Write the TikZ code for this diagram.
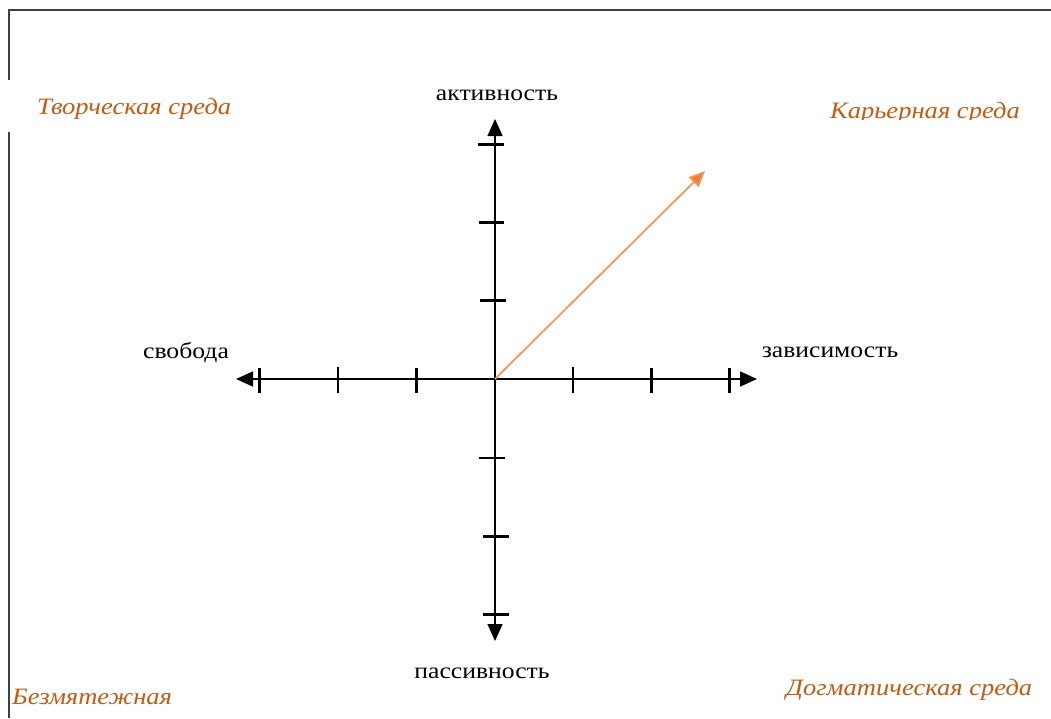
\documentclass[tikz,border=0pt]{standalone}
\usepackage{fontspec}
\setmainfont{Liberation Serif}
\newfontfamily\wideserif[FakeStretch=1.14]{Liberation Serif}
\newfontfamily\wideital[FakeStretch=1.13]{Liberation Serif Italic}
\usetikzlibrary{arrows.meta}
\definecolor{axisblack}{RGB}{0,0,0}
\definecolor{framegray}{RGB}{64,64,64}
\definecolor{labelorange}{RGB}{197,90,17}
\definecolor{vecline}{RGB}{245,150,90}
\definecolor{vechead}{RGB}{237,125,49}
\tikzset{
  axisline/.style={line width=1.5pt, draw=axisblack, -{Triangle[length=17pt,width=15pt]}},
  thicktick/.style={line width=3pt, draw=axisblack},
  thintick/.style={line width=1.4pt, draw=axisblack},
  axislabel/.style={font=\wideserif\fontsize{22.5}{25}\selectfont, text=black, inner sep=0pt},
  zonelabel/.style={font=\wideital\fontsize{23.5}{26}\selectfont, text=labelorange, inner sep=0pt},
  frameline/.style={line width=1.5pt, draw=framegray},
  vector/.style={line width=1.8pt, draw=vecline, -{Triangle[length=16pt,width=14pt,fill=vechead]}}
}
\begin{document}
\begin{tikzpicture}[x=1pt,y=-1pt]
\useasboundingbox (0,0) rectangle (1051,718);
% frame
\coordinate (f1) at (9,80);
\coordinate (f2) at (9,10);
\coordinate (f3) at (1051,10);
\coordinate (f4) at (9,132);
\coordinate (f5) at (9,718);
\draw[frameline] (f1) -- (f2) -- (f3);
\draw[frameline] (f4) -- (f5);
% axes
\coordinate (o) at (495,379);
\coordinate (left) at (236,379);
\coordinate (right) at (757,379);
\coordinate (top) at (495,119);
\coordinate (bottom) at (495,641);
\draw[axisline] (o) -- (left);
\draw[axisline] (o) -- (right);
\draw[axisline] (o) -- (top);
\draw[axisline] (o) -- (bottom);
% horizontal ticks
\draw[thicktick] (259,368) -- (259,393);
\draw[thintick] (338,367) -- (338,393);
\draw[thicktick] (416,368) -- (416,393);
\draw[thintick] (573,367) -- (573,393);
\draw[thicktick] (651,368) -- (651,393);
\draw[thicktick] (729,368) -- (729,393);
% vertical ticks
\draw[thicktick] (478,144) -- (504,144);
\draw[thicktick] (479,222) -- (504,222);
\draw[thicktick] (480,300) -- (506,300);
\draw[thintick] (479,458) -- (505,458);
\draw[thicktick] (483,536) -- (509,536);
\draw[thicktick] (483,614) -- (509,614);
% vector
\coordinate (vtip) at (705,171);
\draw[vector] (o) -- (vtip);
% axis labels
\node[axislabel] (lact) at (497,95) {активность};
\node[axislabel] (lpas) at (482,673) {пассивность};
\node[axislabel] (lsvo) at (186,353) {свобода};
\node[axislabel] (lzav) at (830,352) {зависимость};
% zone labels
\node[zonelabel, anchor=base west] (ztv) at (37,114) {Творческая среда};
\begin{scope}
\clip (800,90) rectangle (1051,119);
\node[zonelabel, anchor=base west] (zka) at (830,118) {Карьерная среда};
\end{scope}
\node[zonelabel, anchor=base west] (zbe) at (12,704) {Безмятежная};
\node[zonelabel, anchor=base west] (zdo) at (786,695) {Догматическая среда};
\end{tikzpicture}
\end{document}
